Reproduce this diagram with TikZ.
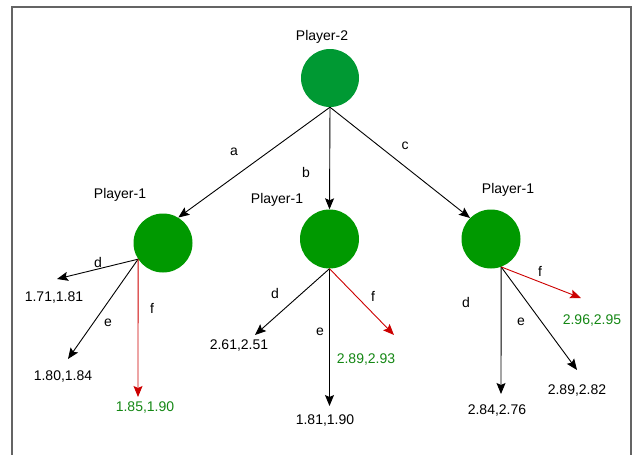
\documentclass[tikz,border=0pt]{standalone}
\usepackage{fontspec}
\setmainfont{Liberation Sans}
\usetikzlibrary{arrows.meta}
\definecolor{topgreen}{RGB}{0,153,51}
\definecolor{nodegreen}{RGB}{0,153,0}
\definecolor{paygreen}{RGB}{20,135,20}
\definecolor{arrred}{RGB}{204,0,0}
\definecolor{framegray}{RGB}{100,100,100}
\tikzset{
  player/.style={circle, minimum size=59pt, inner sep=0pt, draw=none},
  txt/.style={font=\fontsize{14}{16}\selectfont, inner sep=0pt},
  gtxt/.style={txt, text=paygreen},
  arr/.style={-{Stealth[length=11pt,width=9pt,inset=2pt]}, line width=0.9pt, black},
  rarr/.style={arr, arrred}
}
\begin{document}
\begin{tikzpicture}[x=1pt,y=-1pt]
\useasboundingbox (0,0) rectangle (633,455);
\draw[framegray, line width=1.8pt] (12,458) -- (12,7) -- (631,7) -- (631,458);
% players
\node[player, fill=topgreen, minimum size=58pt] (t) at (330,78) {};
\node[player, fill=nodegreen] (l) at (163,243) {};
\node[player, fill=nodegreen] (m) at (329.5,239) {};
\node[player, fill=nodegreen] (r) at (491,239) {};
\node[txt] (tl) at (322,37) {Player-2};
\node[txt] (ll) at (120,195) {Player-1};
\node[txt] (ml) at (277,200) {Player-1};
\node[txt] (rl) at (508,190) {Player-1};
% first level edges
\draw[arr] (t.south) -- (l.59);
\draw[arr] (t.south) -- (m.north);
\draw[arr] (t.south) -- (r.135);
\node[txt] (la) at (234,152) {a};
\node[txt] (lb) at (306,172) {b};
\node[txt] (lc) at (405,146) {c};
% left subtree
\coordinate (ld) at (57,279);
\coordinate (le) at (68,359);
\coordinate (lf) at (138,397);
\draw[arr] (l.213) -- (ld);
\draw[arr] (l.213) -- (le);
\draw[rarr] (l.213) -- (lf);
\node[txt] (ldl) at (98,262) {d};
\node[txt] (lel) at (108,323) {e};
\node[txt] (lfl) at (152,308) {f};
\node[txt] (lpd) at (54,298) {1.71,1.81};
\node[txt] (lpe) at (63,377) {1.80,1.84};
\node[gtxt] (lpf) at (145,408) {1.85,1.90};
% middle subtree
\coordinate (md) at (255,335);
\coordinate (me) at (329.5,406);
\coordinate (mf) at (394,335);
\draw[arr] (m.south) -- (md);
\draw[arr] (m.south) -- (me);
\draw[rarr] (m.south) -- (mf);
\node[txt] (mdl) at (275,293) {d};
\node[txt] (mel) at (320,332) {e};
\node[txt] (mfl) at (373,296) {f};
\node[txt] (mpd) at (239,346) {2.61,2.51};
\node[txt] (mpe) at (325,421) {1.81,1.90};
\node[gtxt] (mpf) at (366,360) {2.89,2.93};
% right subtree
\coordinate (rd) at (501,394);
\coordinate (re) at (577,370);
\coordinate (rf) at (581,298);
\draw[arr] (r.290) -- (rd);
\draw[arr] (r.290) -- (re);
\draw[rarr] (r.290) -- (rf);
\node[txt] (rdl) at (466,302) {d};
\node[txt] (rel) at (521,322) {e};
\node[txt] (rfl) at (540,271) {f};
\node[txt] (rpd) at (497,411) {2.84,2.76};
\node[txt] (rpe) at (577,391) {2.89,2.82};
\node[gtxt] (rpf) at (592,321) {2.96,2.95};
\end{tikzpicture}
\end{document}
